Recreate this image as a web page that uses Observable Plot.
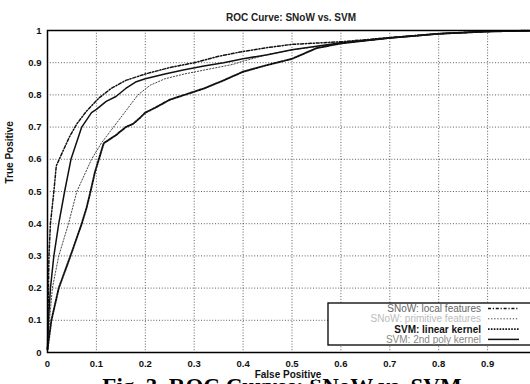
<!DOCTYPE html>
<html>
<head>
<meta charset="utf-8">
<script src="https://cdn.jsdelivr.net/npm/d3@7"></script>
<script src="https://cdn.jsdelivr.net/npm/@observablehq/plot@0.6"></script>
<style>
  html, body { margin: 0; padding: 0; background: #fff; overflow: hidden; width: 530px; height: 384px; }
  #chart { position: relative; width: 530px; height: 384px; overflow: hidden; }
  #chart svg { max-width: none !important; }
</style>
</head>
<body>
<div id="chart"></div>
<script>
// ---- data ----
const chartTitle = "ROC Curve: SNoW vs. SVM";
const xLabel = "False Positive";
const yLabel = "True Positive";
const caption = "Fig. 3. ROC Curves: SNoW vs. SVM";
const xTicks = [0, 0.1, 0.2, 0.3, 0.4, 0.5, 0.6, 0.7, 0.8, 0.9];
const yTicks = [0, 0.1, 0.2, 0.3, 0.4, 0.5, 0.6, 0.7, 0.8, 0.9, 1];
const seriesNames = ["SNoW: local features", "SNoW: primitive features", "SVM: linear kernel", "SVM: 2nd poly kernel"];

// curve A: top (dash-dot)
const aFP = [0, 0.001, 0.002, 0.003, 0.006, 0.013, 0.018, 0.03, 0.045, 0.06, 0.08, 0.105, 0.13, 0.16, 0.2, 0.25, 0.3, 0.35, 0.4, 0.45, 0.5, 0.6, 0.7, 0.8, 0.9, 1];
const aTP = [0.01, 0.1, 0.2, 0.3, 0.4, 0.5, 0.58, 0.62, 0.67, 0.71, 0.75, 0.79, 0.82, 0.845, 0.865, 0.885, 0.9, 0.92, 0.935, 0.947, 0.957, 0.965, 0.978, 0.99, 0.997, 1];
// curve B: second (solid)
const bFP = [0, 0.002, 0.006, 0.013, 0.023, 0.035, 0.048, 0.07, 0.09, 0.1, 0.12, 0.14, 0.16, 0.18, 0.2, 0.24, 0.28, 0.32, 0.36, 0.4, 0.45, 0.5, 0.6, 0.7, 0.8, 0.9, 1];
const bTP = [0.01, 0.1, 0.2, 0.3, 0.4, 0.5, 0.6, 0.7, 0.745, 0.755, 0.78, 0.795, 0.82, 0.84, 0.85, 0.865, 0.878, 0.89, 0.9, 0.912, 0.925, 0.94, 0.962, 0.977, 0.99, 0.997, 1];
// curve C: third (thin dotted)
const cFP = [0, 0.004, 0.01, 0.023, 0.043, 0.06, 0.09, 0.11, 0.135, 0.16, 0.185, 0.21, 0.24, 0.28, 0.33, 0.38, 0.4, 0.45, 0.5, 0.6, 0.7, 0.8, 0.9, 1];
const cTP = [0.01, 0.1, 0.2, 0.3, 0.4, 0.5, 0.6, 0.65, 0.7, 0.75, 0.8, 0.83, 0.85, 0.865, 0.88, 0.895, 0.905, 0.925, 0.94, 0.96, 0.977, 0.99, 0.997, 1];
// curve D: lowest (heavy dotted)
const dFP = [0, 0.008, 0.023, 0.047, 0.07, 0.08, 0.088, 0.097, 0.105, 0.115, 0.14, 0.16, 0.175, 0.19, 0.2, 0.22, 0.25, 0.28, 0.32, 0.36, 0.4, 0.45, 0.5, 0.55, 0.6, 0.7, 0.8, 0.9, 1];
const dTP = [0.01, 0.1, 0.2, 0.3, 0.4, 0.45, 0.5, 0.56, 0.6, 0.65, 0.675, 0.7, 0.71, 0.73, 0.745, 0.76, 0.785, 0.8, 0.82, 0.845, 0.872, 0.893, 0.912, 0.945, 0.96, 0.977, 0.99, 0.997, 1];

// ---- styles ----
const styles = [
  {fp: aFP, tp: aTP, stroke: "#111", width: 1.5, dash: "3,1.8,1.2,1.8"},
  {fp: cFP, tp: cTP, stroke: "#444", width: 1.0, dash: "1.3,1.8"},
  {fp: dFP, tp: dTP, stroke: "#111", width: 1.9, dash: "1.6,1.3"},
  {fp: bFP, tp: bTP, stroke: "#111", width: 1.5, dash: null}
];
const legendTextColors = ["#666", "#bbb", "#111", "#888"];

const rows = [];
styles.forEach((s, i) => s.fp.forEach((v, j) => rows.push({series: seriesNames[i], fp: v, tp: s.tp[j]})));

const fmt = d => d === 0 ? "0" : d === 1 ? "1" : d3.format(".1f")(d);
const font = "'Liberation Sans', Arial, sans-serif";

const lineMarks = styles.map((s, i) =>
  Plot.line(rows.filter(r => r.series === seriesNames[i]), {
    x: "fp", y: "tp", stroke: s.stroke, strokeWidth: s.width,
    strokeDasharray: s.dash || undefined, curve: "linear"
  })
);

const plot = Plot.plot({
  width: 540,
  height: 384,
  marginLeft: 47,
  marginRight: 4,
  marginTop: 30,
  marginBottom: 32,
  style: {fontFamily: font, fontSize: "9.5px", background: "#fff", color: "#111", maxWidth: "none"},
  x: {domain: [0, 1]},
  y: {domain: [0, 1]},
  marks: [
    Plot.gridX(xTicks.filter(d => d > 0), {stroke: "#222", strokeOpacity: 0.9, strokeWidth: 0.8, strokeDasharray: "1,1.8"}),
    Plot.gridY(yTicks.filter(d => d > 0 && d < 1), {stroke: "#222", strokeOpacity: 0.9, strokeWidth: 0.8, strokeDasharray: "1,1.8"}),
    Plot.axisX(xTicks, {tickSize: 0, tickPadding: 8, tickFormat: fmt, label: null, fontWeight: "bold", fontSize: 9.5}),
    Plot.axisY(yTicks, {tickSize: 0, tickPadding: 6, tickFormat: fmt, label: null, fontWeight: "bold", fontSize: 9.5}),
    ...lineMarks,
    Plot.frame({stroke: "#000", strokeWidth: 1.5}),
    Plot.text([chartTitle], {frameAnchor: "top", dy: -17, dx: -1, fontSize: 10, fontWeight: "bold", fill: "#222"}),
    Plot.text([caption], {frameAnchor: "bottom", dy: 41, dx: -10, fontSize: 23, fontWeight: "bold", fontFamily: "'Liberation Serif', 'Times New Roman', serif", fill: "#000"}),
    Plot.text([xLabel], {frameAnchor: "bottom", dy: 25, dx: -4, fontSize: 10, fontWeight: "bold", fill: "#111", stroke: "#fff", strokeWidth: 4}),
    Plot.text([yLabel], {frameAnchor: "left", dx: -38, dy: -8, rotate: -90, fontSize: 10, fontWeight: "bold", fill: "#111"})
  ]
});

document.getElementById("chart").appendChild(plot);

// ---- legend (pixel layout box) ----
const svg = d3.select(plot);
const lg = svg.append("g").attr("font-family", font).attr("font-size", 10);
lg.append("rect").attr("x", 328).attr("y", 303).attr("width", 220).attr("height", 42)
  .attr("fill", "#fff").attr("stroke", "#000").attr("stroke-width", 1.3);
seriesNames.forEach((name, i) => {
  const yy = 308.5 + i * 10.3;
  lg.append("text").attr("x", 481).attr("y", yy).attr("dy", "0.35em")
    .attr("text-anchor", "end").attr("fill", legendTextColors[i])
    .attr("font-weight", i === 2 ? "bold" : "normal").text(name);
  lg.append("line").attr("x1", 488).attr("x2", 519).attr("y1", yy).attr("y2", yy)
    .attr("stroke", styles[i].stroke).attr("stroke-width", styles[i].width)
    .attr("stroke-dasharray", styles[i].dash || null);
});
</script>
</body>
</html>
